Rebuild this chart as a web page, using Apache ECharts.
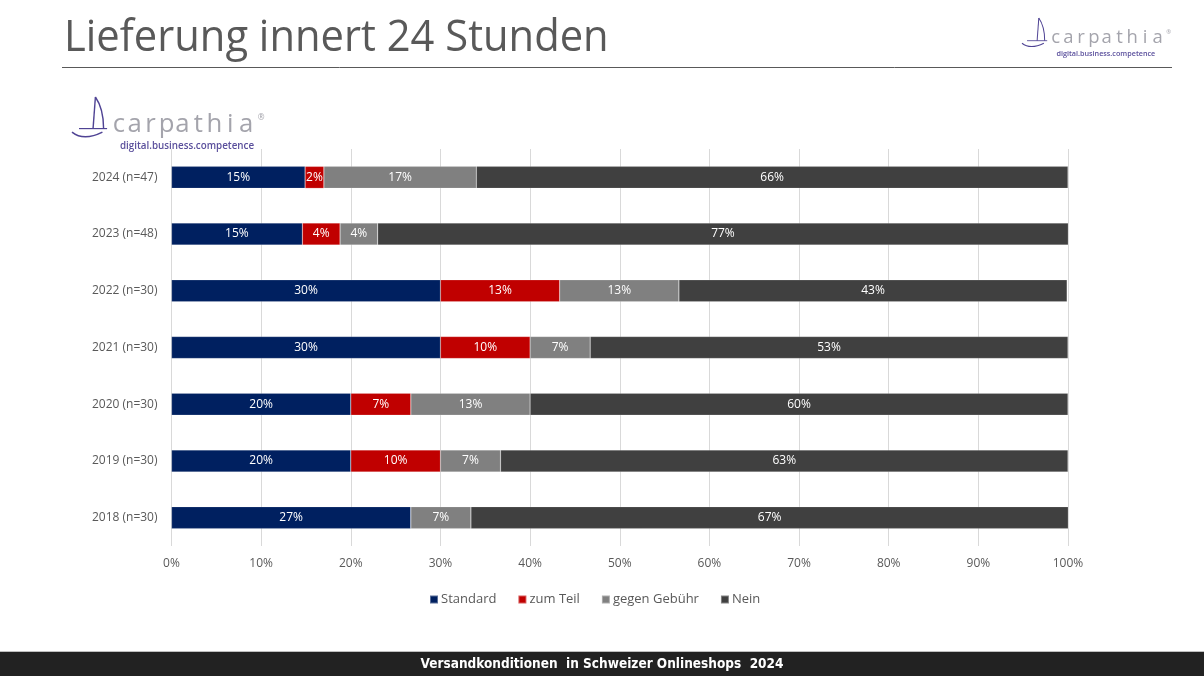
<!DOCTYPE html>
<html><head><meta charset="utf-8">
<script src="https://cdn.jsdelivr.net/npm/echarts@6/dist/echarts.min.js"></script>
<style>html,body{margin:0;padding:0;background:#fff}#c{width:1204px;height:676px}</style>
</head><body><div id="c"></div>
<script>
const categories = ['2024 (n=47)','2023 (n=48)','2022 (n=30)','2021 (n=30)','2020 (n=30)','2019 (n=30)','2018 (n=30)'];
const standard = [14.9, 14.6, 30.0, 30.0, 20.0, 20.0, 26.7];
const zumTeil  = [2.1, 4.2, 13.3, 10.0, 6.7, 10.0, 0];
const gebuehr  = [17.0, 4.2, 13.3, 6.7, 13.3, 6.7, 6.7];
const nein     = [66.0, 77.1, 43.3, 53.3, 60.0, 63.3, 66.7];
const seriesNames = ['Standard','zum Teil','gegen Gebühr','Nein'];
const colors = ['#002060','#C00000','#808080','#404040'];

const chart = echarts.init(document.getElementById('c'));
const font = 'Open Sans, Noto Sans, sans-serif';
const lab = {show:true, color:'#fff', fontSize:12, fontFamily:font,
  formatter: p => p.value > 0 ? Math.round(p.value) + '%' : ''};
const mk = (name, data, i) => ({name, type:'bar', stack:'s', data, barWidth:22,
  itemStyle:{color:colors[i], borderColor:'rgba(255,255,255,0.35)', borderWidth:0.5},
  label:lab, emphasis:{disabled:true}});

function logo(x, y, s, id, sp, dsz){
  const kids = [];
  const purple = '#4f4394';
  kids.push({type:'bezierCurve', shape:{x1:0,y1:30,x2:26,y2:30,cpx1:10,cpy1:38}, style:{stroke:purple,lineWidth:1.3,fill:null}});
  kids.push({type:'bezierCurve', shape:{x1:20,y1:0,x2:27,y2:27,cpx1:27,cpy1:10}, style:{stroke:purple,lineWidth:1.2,fill:null}});
  kids.push({type:'line', shape:{x1:20,y1:0,x2:18,y2:27}, style:{stroke:purple,lineWidth:1.2}});
  kids.push({type:'line', shape:{x1:6,y1:27,x2:30,y2:27}, style:{stroke:purple,lineWidth:1}});
  const word = 'carpathia';
  for (let k=0;k<word.length;k++){
    kids.push({type:'text', x:40+k*sp, y:35, style:{text:word[k], font:'22px '+font, fill:'#a4a4ac', textAlign:'center', textVerticalAlign:'bottom'}});
  }
  kids.push({type:'text', x:40+8*sp+10, y:14, style:{text:'®', font:'7px '+font, fill:'#a4a4ac'}});
  kids.push({type:'text', x:41, y:38, style:{text:'digital.business.competence', font:'600 ' + dsz + 'px ' + font, fill:'#5a4f9c'}});
  return {type:'group', id, x, y, scaleX:s, scaleY:s, children:kids};
}

chart.setOption({
  animation:false,
  backgroundColor:'#fff',
  grid:{left:171.5, right:136, top:149, bottom:130, containLabel:false},
  xAxis:{type:'value', min:0, max:100, interval:10,
    axisLabel:{formatter:'{value}%', color:'#595959', fontSize:12, fontFamily:font, margin:12},
    axisLine:{show:false}, axisTick:{show:false},
    splitLine:{show:true, lineStyle:{color:'#d9d9d9', width:1}}},
  yAxis:{type:'category', data:categories, inverse:true,
    axisLabel:{color:'#595959', fontSize:12, fontFamily:font, margin:14},
    axisLine:{show:false}, axisTick:{show:false}},
  legend:{data:seriesNames, bottom:65, left:424, itemWidth:8, itemHeight:8, itemGap:21, icon:'rect',
    textStyle:{color:'#595959', fontSize:13, fontFamily:font, padding:[0,0,0,-2]}},
  series:[mk('Standard',standard,0), mk('zum Teil',zumTeil,1), mk('gegen Gebühr',gebuehr,2), mk('Nein',nein,3)],
  graphic:[
    {type:'text', x:64, y:17, style:{text:'Lieferung innert 24 Stunden', font:'43px '+font, fill:'#595959'}, scaleX:0.97},
    {type:'line', shape:{x1:62,y1:67.5,x2:1172,y2:67.5}, style:{stroke:'#595959', lineWidth:1}},
    logo(1022, 18, 0.84, 'lg1', 15.2, 8.6),
    logo(72, 97, 1.17, 'lg2', 13.6, 8.4),
    {type:'line', shape:{x1:0,y1:651.5,x2:1204,y2:651.5}, style:{stroke:'#bfbfbf', lineWidth:1}},
    {type:'rect', shape:{x:0,y:652,width:1204,height:24}, style:{fill:'#222222'}},
    {type:'text', x:602, y:664, style:{text:'Versandkonditionen  in Schweizer Onlineshops  2024', font:'bold 13.5px "DejaVu Sans Condensed", sans-serif', fill:'#fff', textAlign:'center', textVerticalAlign:'middle'}}
  ]
});
</script></body></html>
